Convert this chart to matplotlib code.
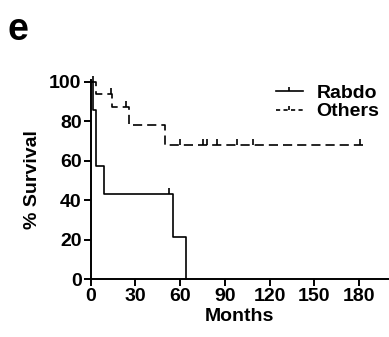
"""
Kaplan-Meier survival, Rabdo vs Others (panel e).
"""
import matplotlib
matplotlib.use("Agg")
import matplotlib.pyplot as plt
from matplotlib.lines import Line2D
from matplotlib.markers import TICKUP

OUTPUT = "out.png"
FONT = "Liberation Sans"

# Rabdo: step times (months) and % survival after each step
rabdo_t = [0, 1.7, 3.3, 9.0, 55.3, 63.6]
rabdo_s = [100, 85.7, 57.1, 42.9, 21.4, 0]
rabdo_cens_t = [52.6]
rabdo_cens_s = [42.9]

# Others
others_t = [0, 3.3, 14.5, 25.5, 49.8, 183]
others_s = [100, 94, 87, 78, 68, 68]
others_cens_t = [1.5, 13.6, 24.0, 60.0, 75.4, 77.7, 84.8, 97.8, 108.9, 180.8]
others_cens_s = [100, 94, 87, 68, 68, 68, 68, 68, 68, 68]

x_ticks = [0, 30, 60, 90, 120, 150, 180]
y_ticks = [0, 20, 40, 60, 80, 100]

plt.rcParams["font.family"] = [FONT, "DejaVu Sans"]
plt.rcParams["font.weight"] = "bold"

fig = plt.figure(figsize=(3.89, 3.37), dpi=100)
ax = fig.add_axes([0.233, 0.172, 0.767, 0.591])

LW = 1.2
DASH = (5.5, 3)
ax.step(rabdo_t, rabdo_s, where="post", color="black", lw=LW, clip_on=False, zorder=3)
ax.plot(rabdo_cens_t, rabdo_cens_s, ls="none", marker=TICKUP, ms=4, mew=LW,
        color="black", clip_on=False, zorder=3)
ax.step(others_t, others_s, where="post", color="black", lw=LW,
        dashes=DASH, clip_on=False, zorder=3)
ax.plot(others_cens_t, others_cens_s, ls="none", marker=TICKUP, ms=4, mew=LW,
        color="black", clip_on=False, zorder=3)

ax.set_xlim(0, 200)
ax.set_ylim(0, 101)
ax.set_xticks(x_ticks)
ax.set_yticks(y_ticks)
for s in ("top", "right"):
    ax.spines[s].set_visible(False)
for s in ("left", "bottom"):
    ax.spines[s].set_linewidth(1.4)
ax.tick_params(direction="out", length=5, width=1.4, labelsize=14, pad=1.5)

ax.set_xlabel("Months", fontsize=14, fontweight="bold", labelpad=2)
ax.set_ylabel("% Survival", fontsize=14, fontweight="bold", labelpad=6)

handles = [
    Line2D([0], [0], color="black", lw=LW, marker=TICKUP, ms=3, mew=LW),
    Line2D([0], [0], color="black", lw=LW, dashes=(2.5, 2), marker=TICKUP, ms=3, mew=LW),
]
ax.legend(handles, ["Rabdo", "Others"], loc="upper right",
          bbox_to_anchor=(0.975, 0.75), bbox_transform=fig.transFigure,
          frameon=False, prop={"size": 14, "weight": "bold"},
          handlelength=1.4, handletextpad=0.7,
          labelspacing=0.05, borderpad=0, borderaxespad=0)

fig.text(0.02, 0.965, "e", fontsize=27, fontweight="bold", va="top", ha="left")

fig.savefig(OUTPUT, dpi=100, facecolor="white")
